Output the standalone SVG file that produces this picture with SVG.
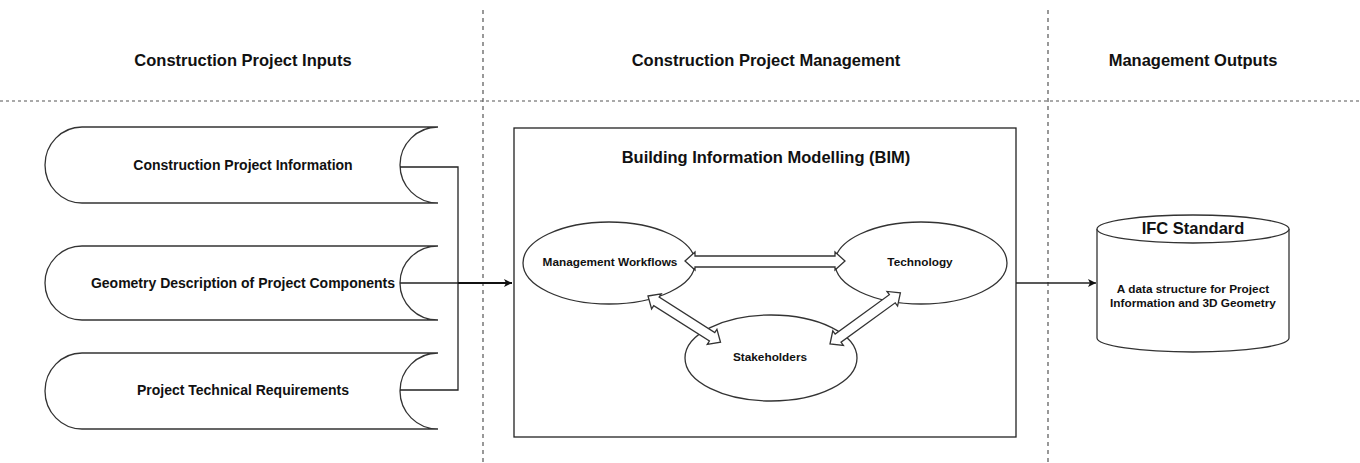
<svg xmlns="http://www.w3.org/2000/svg" width="1360" height="463" viewBox="0 0 1360 463">
<defs>
<style>
.t{font-family:"Liberation Sans",Arial,sans-serif;font-weight:bold;fill:#111;text-anchor:middle;dominant-baseline:central}
.h{font-size:16.5px}
.n{font-size:14px}
.e{font-size:11.8px}
.s{stroke:#333;stroke-width:1.3;fill:#fff}
.c{stroke:#222;stroke-width:1.3;fill:none}
.d{stroke:#555;stroke-width:1.2;fill:none}
</style>
<marker id="ah" viewBox="0 0 10 10" refX="10" refY="5" markerWidth="8" markerHeight="8" markerUnits="userSpaceOnUse" orient="auto">
<path d="M0,0 L10,5 L0,10 L2.5,5 z" fill="#111"/>
</marker>
</defs>
<rect width="1360" height="463" fill="#fff"/>
<g id="lanes">
<line class="d" x1="483" y1="10" x2="483" y2="463" stroke-dasharray="4,4"/>
<line class="d" x1="1048" y1="10" x2="1048" y2="463" stroke-dasharray="4,4"/>
<line class="d" x1="0" y1="101" x2="1360" y2="101" stroke-dasharray="3,3"/>
<text class="t h" x="243" y="60">Construction Project Inputs</text>
<text class="t h" x="766" y="60">Construction Project Management</text>
<text class="t h" x="1193" y="60">Management Outputs</text>
</g>
<g id="input1">
<path class="s" d="M438,127 L82,127 A37,38 0 0 0 82,203 L438,203 A38,38 0 0 1 438,127"/>
<text class="t n" x="243" y="165">Construction Project Information</text>
</g>
<g id="input2">
<path class="s" d="M438,246 L82,246 A37,37 0 0 0 82,320 L438,320 A38,37 0 0 1 438,246"/>
<text class="t n" x="243" y="283">Geometry Description of Project Components</text>
</g>
<g id="input3">
<path class="s" d="M438,353 L82,353 A37,38 0 0 0 82,429 L438,429 A38,38 0 0 1 438,353"/>
<text class="t n" x="243" y="390">Project Technical Requirements</text>
</g>
<g id="bim">
<rect x="514" y="128" width="502" height="309" fill="#fff" stroke="#222" stroke-width="1.3"/>
<text class="t" x="766" y="157" font-size="16.5">Building Information Modelling (BIM)</text>
</g>
<g id="workflows">
<ellipse class="s" cx="609" cy="263" rx="86" ry="41"/>
<text class="t e" x="610" y="262">Management Workflows</text>
</g>
<g id="technology">
<ellipse class="s" cx="921" cy="263" rx="86" ry="41"/>
<text class="t e" x="920" y="262">Technology</text>
</g>
<g id="stakeholders">
<ellipse class="s" cx="771" cy="358" rx="86" ry="43"/>
<text class="t e" x="770" y="357">Stakeholders</text>
</g>
<g id="ifc">
<path class="s" d="M1097,229 L1097,338 A96,14 0 0 0 1289,338 L1289,229"/>
<ellipse class="s" cx="1193" cy="229" rx="96" ry="14"/>
<text class="t" x="1193" y="228" font-size="16.5">IFC Standard</text>
<text class="t e" x="1193" y="289">A data structure for Project</text>
<text class="t e" x="1193" y="303">Information and 3D Geometry</text>
</g>
<g id="connectors">
<polyline class="c" points="400,167 458,167 458,390 400,390"/>
<line class="c" x1="400" y1="283" x2="458" y2="283"/>
<line x1="458" y1="283" x2="512" y2="283" stroke="#111" stroke-width="2" marker-end="url(#ah)"/>
<line class="c" x1="1016" y1="283" x2="1096" y2="283" marker-end="url(#ah)"/>
<polygon class="s" points="685,261 695,252 695,256 835,256 835,252 845,261 835,270 835,267 695,267 695,270"/>
<polygon class="s" transform="translate(648,296) rotate(32.5)" points="0,0 10,-9 10,-5 76,-5 76,-9 86,0 76,9 76,5 10,5 10,9"/>
<polygon class="s" transform="translate(830,344) rotate(-36)" points="0,0 10,-9 10,-5 77,-5 77,-9 87,0 77,9 77,5 10,5 10,9"/>
</g>
</svg>
